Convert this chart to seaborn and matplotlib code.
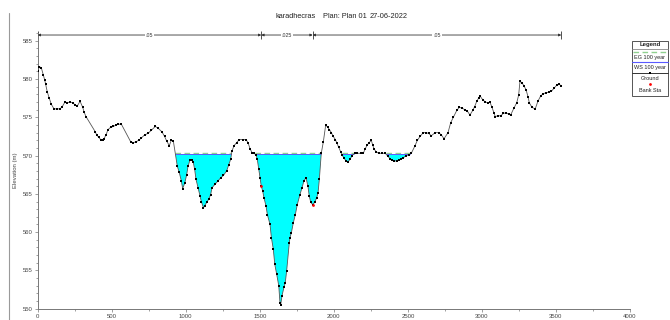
import numpy as np
import pandas as pd
import matplotlib
matplotlib.use("Agg")
import matplotlib.pyplot as plt
import seaborn as sns
from matplotlib.lines import Line2D
from matplotlib.patches import Rectangle

# ---- cross-section data -------------------------------------------------
station = [
    0, 11, 24, 38, 47, 54, 65, 78, 92, 110, 128, 151, 166, 184, 200, 218, 236, 254,
    268, 286, 304, 313, 326, 389, 398, 412, 425, 439, 448, 461, 475, 493, 511, 529,
    542, 565, 628, 646, 664, 682, 700, 722, 745, 767, 794, 812, 839, 857, 871, 889,
    902, 916, 943, 956, 970, 979, 993, 1006, 1015, 1028, 1042, 1051, 1060, 1069,
    1083, 1096, 1105, 1119, 1128, 1141, 1155, 1168, 1177, 1200, 1218, 1236, 1254,
    1276, 1290, 1303, 1312, 1326, 1344, 1361, 1384, 1407, 1420, 1434, 1447, 1461,
    1474, 1483, 1492, 1501, 1510, 1519, 1528, 1542, 1551, 1569, 1578, 1591, 1601,
    1614, 1628, 1636, 1641, 1650, 1663, 1672, 1681, 1699, 1704, 1713, 1726, 1740,
    1753, 1771, 1785, 1798, 1812, 1825, 1834, 1844, 1857, 1871, 1884, 1893, 1902,
    1915, 1929, 1945, 1958, 1970, 1983, 1996, 2010, 2019, 2033, 2046, 2055, 2068,
    2082, 2096, 2109, 2123, 2141, 2159, 2181, 2199, 2212, 2226, 2239, 2253, 2262,
    2271, 2285, 2303, 2325, 2347, 2366, 2379, 2393, 2406, 2424, 2438, 2451, 2469,
    2487, 2505, 2523, 2546, 2564, 2582, 2604, 2622, 2640, 2658, 2685, 2708, 2726,
    2744, 2771, 2789, 2807, 2830, 2847, 2866, 2884, 2902, 2919, 2938, 2951, 2965,
    2978, 2987, 3005, 3023, 3041, 3054, 3068, 3081, 3090, 3108, 3127, 3144, 3162,
    3181, 3194, 3216, 3235, 3248, 3257, 3271, 3284, 3298, 3311, 3320, 3338, 3360,
    3378, 3397, 3415, 3433, 3451, 3469, 3487, 3505, 3523, 3536,
]
ground = [
    581.0, 581.6, 581.5, 580.5, 579.9, 579.3, 578.3, 577.5, 576.7, 576.1, 576.1,
    576.1, 576.4, 577.0, 576.9, 577.0, 576.9, 576.6, 576.5, 577.1, 576.3, 575.7,
    575.1, 573.1, 572.7, 572.4, 572.1, 572.1, 572.2, 572.7, 573.4, 573.7, 573.8,
    574.0, 574.1, 574.1, 571.8, 571.7, 571.8, 572.0, 572.3, 572.7, 572.9, 573.3,
    573.8, 573.6, 573.1, 572.5, 571.9, 571.3, 572.0, 571.9, 568.6, 567.8, 566.7,
    565.7, 566.4, 567.5, 568.6, 569.4, 569.4, 569.1, 568.2, 566.9, 565.8, 564.7,
    564.0, 563.2, 563.4, 563.9, 564.3, 564.9, 565.8, 566.3, 566.7, 567.1, 567.4,
    568.0, 568.8, 569.5, 570.6, 571.3, 571.7, 572.1, 572.1, 572.1, 571.7, 570.9,
    570.4, 570.3, 570.1, 569.5, 568.3, 567.1, 566.0, 565.4, 564.5, 563.4, 562.3,
    561.0, 559.3, 557.8, 555.8, 554.5, 553.0, 550.8, 550.5, 551.7, 552.8, 553.4,
    554.9, 558.6, 559.3, 559.9, 561.2, 562.3, 563.6, 564.9, 565.8, 566.7, 567.1,
    566.0, 564.7, 563.9, 563.6, 563.9, 564.5, 565.1, 566.9, 570.3, 571.8, 574.0,
    573.7, 573.4, 573.0, 572.5, 572.1, 571.7, 571.1, 570.5, 570.1, 569.7, 569.3,
    569.2, 569.5, 570.0, 570.3, 570.3, 570.3, 570.3, 570.9, 571.4, 571.7, 572.0,
    571.4, 570.9, 570.5, 570.3, 570.3, 570.3, 569.9, 569.6, 569.4, 569.3, 569.3,
    569.4, 569.5, 569.7, 570.0, 570.1, 570.3, 571.2, 572.0, 572.5, 573.0, 573.0,
    572.9, 572.6, 573.0, 573.0, 572.7, 572.2, 573.0, 574.3, 575.0, 575.9, 576.3,
    576.2, 576.0, 575.8, 575.3, 575.9, 576.4, 577.1, 577.5, 577.8, 577.3, 577.0,
    576.9, 577.0, 576.3, 575.6, 575.1, 575.2, 575.2, 575.5, 575.6, 575.4, 575.3,
    576.2, 576.9, 577.9, 579.7, 579.5, 579.1, 578.6, 577.7, 576.9, 576.3, 576.1,
    577.1, 577.8, 578.1, 578.2, 578.3, 578.4, 578.8, 579.2, 579.3, 579.1,
]
bank_sta = [1510, 1857]
ws_elev = 570.2      # WS 100 year
eg_elev = 570.35     # EG 100 year

# Manning's n regions
n_breaks = [0, 1510, 1857, 3536]
n_values = [".05", ".025", ".05"]

title_parts = ["karadhecras", "Plan: Plan 01", "27-06-2022"]
legend_title = "Legend"
legend_labels = ["EG 100 year", "WS 100 year", "Ground", "Bank Sta"]

# ---- styling ------------------------------------------------------------
sns.set_theme(style="white")
plt.rcParams["font.family"] = ["Liberation Sans", "DejaVu Sans"]

W, H = 670, 320
fig = plt.figure(figsize=(W / 100, H / 100), dpi=100)
fig.patch.set_facecolor("white")


def fx(px):
    return px / W


def fy(py):
    return 1 - py / H


ax = fig.add_axes([fx(37.7), fy(308.7), fx(630) - fx(37.7), fy(33.1) - fy(308.7)])

x = np.array(station, dtype=float)
z = np.array(ground, dtype=float)
df = pd.DataFrame({"Station": x, "Elevation": z})

# water fill below the water surface
ax.fill_between(x, z, ws_elev, where=z < ws_elev, interpolate=True,
                color="#00ffff", lw=0, zorder=1)


def wet_spans(xs, zs, level):
    spans, start = [], None
    for i in range(len(xs)):
        below = zs[i] < level
        if below and start is None:
            start = xs[0] if i == 0 else xs[i - 1] + (level - zs[i - 1]) * (xs[i] - xs[i - 1]) / (zs[i] - zs[i - 1])
        elif not below and start is not None:
            end = xs[i - 1] + (level - zs[i - 1]) * (xs[i] - xs[i - 1]) / (zs[i] - zs[i - 1])
            spans.append((start, end))
            start = None
    return spans


for s, e in wet_spans(x, z, ws_elev):
    ax.hlines(eg_elev, s, e, color="#8fd08f", lw=1.0, linestyles=(0, (4, 2.5)), zorder=2)
    ax.hlines(ws_elev, s, e, color="#5a5aff", lw=0.7, zorder=2)

# ground profile
sns.lineplot(data=df, x="Station", y="Elevation", ax=ax, estimator=None, sort=False,
             color="#555555", lw=0.6, marker="s", markersize=1.8,
             markeredgewidth=0, markerfacecolor="black", zorder=3, legend=False)

# bank stations
bank_elev = np.interp(bank_sta, x, z)
sns.scatterplot(x=bank_sta, y=bank_elev, ax=ax, color="red", s=4, linewidth=0, zorder=4)

# Manning's n bar along the top
n_y = 585.75
for b0, b1, lab in zip(n_breaks[:-1], n_breaks[1:], n_values):
    ax.annotate("", xy=(b1, n_y), xytext=(b0, n_y), annotation_clip=False,
                arrowprops=dict(arrowstyle="<|-|>", lw=0.6, color="#333333",
                                mutation_scale=3.5, shrinkA=0, shrinkB=0))
    ax.text((b0 + b1) / 2, n_y, lab, fontsize=3.8, color="#333333", ha="center",
            va="center", clip_on=False,
            bbox=dict(facecolor="white", edgecolor="none", pad=0.6))
ax.vlines(n_breaks, n_y - 0.55, n_y + 0.55, color="#333333", lw=0.6, clip_on=False)

# axes
ax.set_xlim(0, 4000)
ax.set_ylim(550, 586)
ax.set_xticks(np.arange(0, 4001, 500))
ax.set_xticks(np.arange(0, 4001, 250), minor=True)
ax.set_yticks(np.arange(550, 586, 5))
ax.set_yticks(np.arange(550, 587, 1), minor=True)
ax.set_xlabel("")
ax.set_ylabel("")
sns.despine(ax=ax)
for sp in ("left", "bottom"):
    ax.spines[sp].set_color("#777777")
    ax.spines[sp].set_linewidth(0.7)
ax.tick_params(which="both", direction="out", color="#777777", width=0.5,
               labelsize=4.3, labelcolor="#444444", left=True, bottom=True)
ax.tick_params(which="major", length=2.5, pad=1.2)
ax.tick_params(which="minor", length=1.5)

fig.text(fx(15), fy(170), "Elevation (m)", rotation=90, fontsize=4.3,
         color="#444444", ha="center", va="center")

# title
for px, part in zip([275, 323, 370], title_parts):
    fig.text(fx(px), fy(17), part, fontsize=5.3, color="#222222", ha="left", va="center")

# window frame edge
fig.add_artist(Line2D([fx(9), fx(9)], [fy(13), 0], color="#9a9a9a", lw=0.8))

# legend box
lx0, lx1, ly0, ly1 = 632, 668, 40.7, 95.7
lxc = (lx0 + lx1) / 2
fig.add_artist(Rectangle((fx(lx0), fy(ly1)), fx(lx1) - fx(lx0), fy(ly0) - fy(ly1),
                         facecolor="white", edgecolor="#555555", lw=0.7))
fig.text(fx(lxc), fy(44.3), legend_title, fontsize=4.3, weight="bold",
         color="#222222", ha="center", va="center")
fig.add_artist(Line2D([fx(lx0), fx(lx1)], [fy(48.5)] * 2, color="#888888", lw=0.6))
fig.add_artist(Line2D([fx(lx0 + 1), fx(lx1 - 1)], [fy(51.7)] * 2, color="#8fd08f",
                      lw=1.0, linestyle=(0, (4, 2.5))))
fig.add_artist(Line2D([fx(lx0), fx(lx1)], [fy(62.3)] * 2, color="#5a5aff", lw=0.8))
fig.add_artist(Line2D([fx(lx0), fx(lx1)], [fy(73.3)] * 2, color="#333333", lw=0.7))
fig.add_artist(Line2D([fx(lxc)], [fy(73.3)], marker="s", markersize=1.8,
                      markeredgewidth=0, color="black"))
fig.add_artist(Line2D([fx(lxc)], [fy(84.3)], marker="o", markersize=2.0,
                      markeredgewidth=0, color="red"))
for py, lab in zip([57.3, 67.7, 79.0, 90.0], legend_labels):
    fig.text(fx(lxc), fy(py), lab, fontsize=4.0, color="#222222",
             ha="center", va="center")

fig.savefig("out.png", dpi=100, facecolor="white")
